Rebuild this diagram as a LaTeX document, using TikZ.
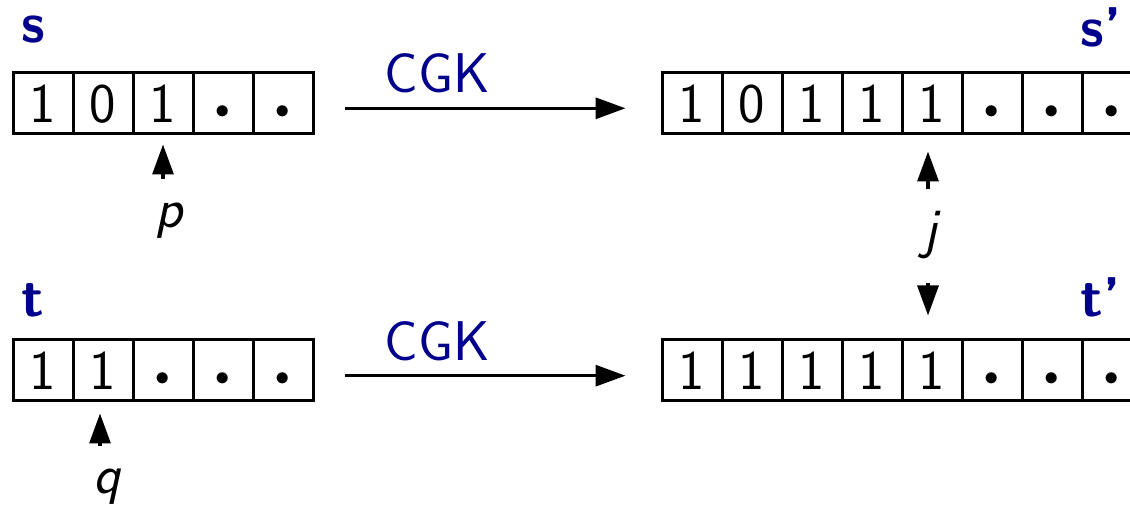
\documentclass[tikz,border=0pt]{standalone}
\usetikzlibrary{arrows.meta}
\definecolor{lblblue}{RGB}{0,0,140}
\newcommand\celldot{\raisebox{2.2pt}{\fontsize{15}{15}\selectfont$\bullet$}}
\begin{document}
\begin{tikzpicture}[x=0.5pt,y=-0.5pt,
  cell/.style={draw, line width=1.5pt, minimum width=30pt, minimum height=30.5pt,
    inner sep=0pt, text height=25pt, text depth=5.5pt,
    font=\fontsize{28}{32}\selectfont\sffamily},
  arr/.style={line width=1.6pt, -{Triangle[length=15pt,width=10.5pt]}},
  seqname/.style={inner sep=0pt, anchor=base west, text=lblblue,
    font=\fontsize{28}{32}\selectfont\sffamily\bfseries},
  op/.style={inner sep=0pt, anchor=base, text=lblblue,
    font=\fontsize{28}{32}\selectfont\sffamily},
  idx/.style={inner sep=0pt, anchor=base,
    font=\fontsize{28}{32}\selectfont\sffamily\itshape}]
\useasboundingbox (0,0) rectangle (1130,506);
\clip (0,0) rectangle (1130,506);

% sequence s and its image s'
\foreach \v [count=\i] in {1,0,1,\celldot,\celldot}
  \node[cell] (s\i) at ({43+60*(\i-1)},103.5) {\v};
\foreach \v [count=\i] in {1,0,1,1,1,\celldot,\celldot,\celldot}
  \node[cell] (sp\i) at ({692+60*(\i-1)},103.5) {\v};

% sequence t and its image t'
\foreach \v [count=\i] in {1,1,\celldot,\celldot,\celldot}
  \node[cell] (t\i) at ({43+60*(\i-1)},370.5) {\v};
\foreach \v [count=\i] in {1,1,1,1,1,\celldot,\celldot,\celldot}
  \node[cell] (tp\i) at ({692+60*(\i-1)},370.5) {\v};

% names of the sequences
\node[seqname] (sname) at (21,43) {s};
\node[seqname] (spname) at (1080,47) {s'};
\node[seqname] (tname) at (21,317) {t};
\node[seqname] (tpname) at (1080,317) {t'};

% embedding arrows
\node[op] (cgk1) at (437.5,93) {CGK};
\node[op] (cgk2) at (437.5,361) {CGK};
\draw[arr, shorten <=15pt, shorten >=17.5pt] ([yshift=-2.4pt]s5.east) -- ([yshift=-2.4pt]sp1.west);
\draw[arr, shorten <=15pt, shorten >=17.5pt] ([yshift=-2.6pt]t5.east) -- ([yshift=-2.6pt]tp1.west);

% pointers into the sequences
\node[idx] (p) at (169,228) {p};
\draw[arr, shorten <=12pt, shorten >=4.5pt] (s3.south |- p.north) -- (s3.south);

\node[idx] (q) at (107,494) {q};
\draw[arr, shorten <=11.5pt, shorten >=5.5pt] ([xshift=-1.5pt]t2.south |- q.north) -- ([xshift=-1.5pt]t2.south);

\node[idx] (j) at (930,248) {j};
\draw[arr, shorten <=11pt, shorten >=8pt] ([xshift=-2pt]sp5.south |- j.north) -- ([xshift=-2pt]sp5.south);
\draw[arr, shorten <=11.5pt, shorten >=11.5pt] ([xshift=-2pt]tp5.north |- j.south) -- ([xshift=-2pt]tp5.north);
\end{tikzpicture}
\end{document}
